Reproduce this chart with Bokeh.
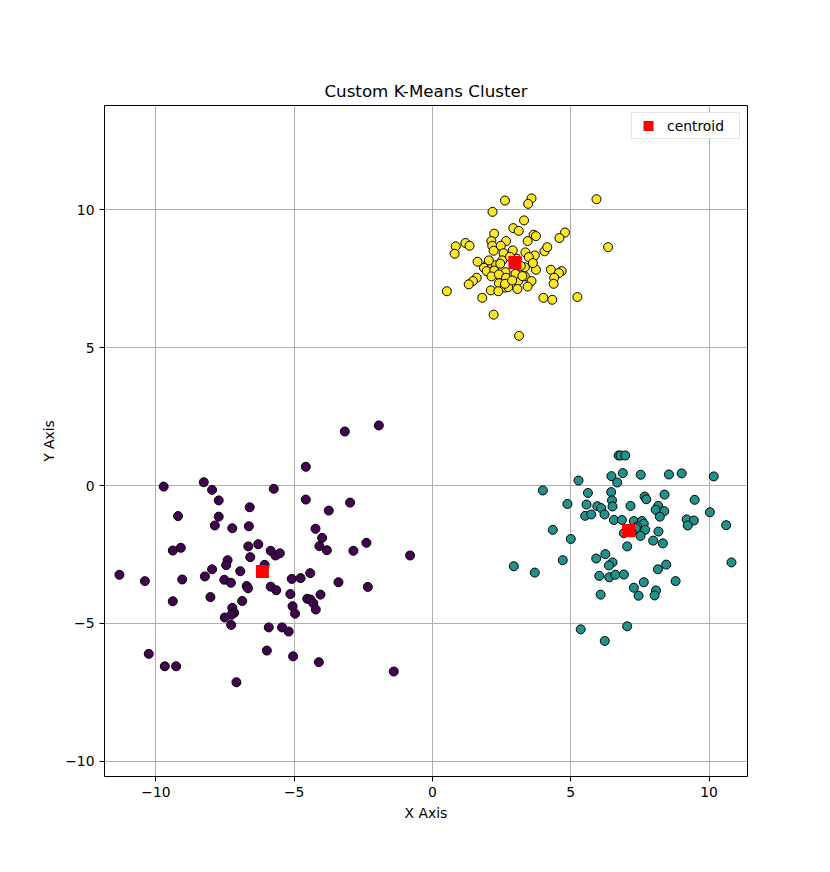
from bokeh.plotting import figure
from bokeh.models import Range1d, FixedTicker
from bokeh.embed import file_html
from bokeh.resources import INLINE

# cluster 0 (purple)
c0_x = [-9.72, -8.27, -7.97, -7.73, -6.61, -9.20, -7.73, -7.87, -7.24, -6.64,
        -9.39, -9.10, -6.66, -6.30, -6.59, -7.41, -7.46, -6.95, -7.97, -8.23,
        -7.53, -7.29, -6.72, -6.67, -11.32, -10.40, -9.05, -9.39, -8.03, -6.88,
        -7.24, -7.17, -7.27, -7.51, -7.28, -10.26, -9.68, -9.27, -7.09, -5.99,
        -6.07, -5.92, -1.94, -3.17, -4.58, -5.74, -4.58, -2.98, -3.75, -4.23,
        -3.99, -4.09, -3.82, -2.39, -2.86, -0.81, -5.85, -5.68, -5.52, -5.09,
        -4.77, -4.42, -5.85, -5.65, -5.14, -3.40, -2.34, -4.05, -4.53, -4.41,
        -4.31, -4.22, -5.06, -4.97, -5.44, -5.20, -5.04, -4.11, -1.40]
c0_y = [-0.04, 0.12, -0.16, -0.54, -0.79, -1.11, -1.13, -1.45, -1.55, -1.48,
        -2.36, -2.26, -2.21, -2.13, -2.60, -2.71, -2.89, -3.11, -3.04, -3.30,
        -3.42, -3.53, -3.65, -3.73, -3.24, -3.47, -3.41, -4.20, -4.05, -4.19,
        -4.44, -4.62, -4.69, -4.79, -5.06, -6.11, -6.56, -6.56, -7.14, -5.99,
        -2.88, -5.15, 2.18, 1.96, 0.68, -0.12, -0.51, -0.62, -0.91, -1.57,
        -1.90, -2.20, -2.35, -2.08, -2.37, -2.54, -2.37, -2.54, -2.46, -3.39,
        -3.36, -3.18, -3.67, -3.80, -3.94, -3.51, -3.68, -3.96, -4.11, -4.14,
        -4.27, -4.50, -4.38, -4.65, -5.15, -5.30, -6.20, -6.41, -6.75]

# cluster 1 (teal)
c1_x = [6.73, 6.47, 5.28, 6.68, 3.99, 5.62, 6.46, 6.49, 4.88, 5.57,
        5.96, 6.10, 6.51, 5.52, 5.74, 6.22, 6.56, 4.35, 5.00, 6.25,
        5.92, 6.51, 4.71, 6.38, 2.94, 3.70, 6.03, 6.39, 6.61, 6.08,
        5.36, 6.23, 6.80, 6.97, 6.88, 7.53, 8.55, 9.01, 10.17, 7.67,
        7.73, 8.39, 9.48, 7.16, 8.16, 8.07, 8.38, 8.22, 10.03, 6.85,
        7.28, 7.57, 7.64, 9.19, 9.45, 9.23, 10.62, 7.40, 7.69, 8.17,
        6.92, 7.52, 7.98, 8.33, 7.04, 8.15, 8.45, 10.81, 6.92, 7.64,
        8.79, 7.28, 7.45, 8.08, 8.03, 7.04, 7.35, 7.20]
c1_y = [1.09, 0.34, 0.18, 0.11, -0.18, -0.27, -0.24, -0.54, -0.67, -0.69,
        -0.75, -0.82, -0.76, -1.10, -1.05, -1.05, -1.25, -1.61, -1.94, -2.49,
        -2.65, -2.79, -2.71, -2.90, -2.93, -3.16, -3.28, -3.33, -3.24, -3.96,
        -5.22, -5.64, 1.09, 1.09, 0.45, 0.39, 0.40, 0.44, 0.33, -0.40,
        -0.50, -0.33, -0.52, -0.74, -0.74, -0.88, -0.93, -1.13, -0.97, -1.25,
        -1.29, -1.29, -1.39, -1.23, -1.27, -1.45, -1.44, -1.49, -1.61, -1.67,
        -1.73, -1.83, -2.00, -2.10, -2.21, -3.04, -2.87, -2.79, -3.23, -3.51,
        -3.47, -3.71, -4.00, -3.81, -3.99, -5.11, -1.55, -1.70]

# cluster 2 (yellow)
c2_x = [2.62, 3.58, 3.46, 5.93, 2.17, 3.31, 2.92, 3.12, 4.79, 4.59,
        2.23, 3.66, 3.74, 6.35, 0.84, 0.80, 1.19, 1.34, 2.13, 2.66,
        2.16, 2.47, 2.21, 3.44, 2.57, 2.90, 3.36, 3.70, 4.05, 4.15,
        1.63, 2.01, 2.30, 2.52, 1.86, 1.96, 2.23, 2.64, 3.12, 3.34,
        3.48, 3.74, 4.28, 4.67, 4.57, 4.40, 4.38, 2.13, 2.40, 2.66,
        3.10, 3.34, 3.58, 1.60, 1.46, 1.31, 2.40, 2.62, 2.74, 3.07,
        3.44, 2.11, 2.38, 0.52, 1.80, 4.01, 4.33, 5.24, 2.21, 3.13,
        3.00, 2.62, 2.04, 3.05, 3.19, 2.88, 3.63, 2.80, 3.25, 2.45]
c2_y = [10.34, 10.42, 10.22, 10.39, 9.93, 9.62, 9.34, 9.24, 9.18, 8.98,
        9.14, 9.10, 9.05, 8.65, 8.68, 8.41, 8.80, 8.70, 8.87, 8.87,
        8.70, 8.70, 8.52, 8.87, 8.43, 8.53, 8.46, 8.35, 8.50, 8.65,
        8.12, 8.05, 8.00, 8.17, 7.90, 7.78, 7.80, 7.74, 7.80, 7.92,
        8.29, 7.83, 7.83, 7.78, 7.71, 7.54, 7.32, 7.59, 7.66, 7.54,
        7.42, 7.59, 7.42, 7.54, 7.42, 7.30, 7.34, 7.18, 7.20, 7.13,
        7.22, 7.08, 7.05, 7.05, 6.81, 6.81, 6.74, 6.84, 6.20, 5.43,
        7.68, 7.32, 8.17, 8.23, 7.97, 7.44, 8.07, 8.30, 7.60, 8.05]

centroid_x = [-6.15, 7.09, 2.98]
centroid_y = [-3.12, -1.63, 8.09]

font = "DejaVu Sans"

p = figure(width=814, height=856, output_backend="svg", toolbar_location=None,
           title="Custom K-Means Cluster",
           x_range=Range1d(-11.86, 11.39), y_range=Range1d(-10.56, 13.79),
           min_border_left=104, min_border_right=67, min_border_top=105, min_border_bottom=80)

p.title.align = "center"
p.title.text_font = font
p.title.text_font_size = "16.7px"
p.title.text_font_style = "normal"
p.title.text_color = "black"

p.outline_line_color = "black"
p.outline_line_width = 1

for ax in (p.xaxis[0], p.yaxis[0]):
    ax.ticker = FixedTicker(ticks=[-10, -5, 0, 5, 10])
    ax.major_label_overrides = {-10: "\u221210", -5: "\u22125", 0: "0", 5: "5", 10: "10"}
    ax.major_label_text_font = font
    ax.major_label_text_font_size = "13.9px"
    ax.major_label_text_color = "black"
    ax.axis_label_text_font = font
    ax.axis_label_text_font_size = "13.9px"
    ax.axis_label_text_font_style = "normal"
    ax.axis_label_text_color = "black"
    ax.minor_tick_line_color = None
    ax.major_tick_out = 5
    ax.major_tick_in = 0
    ax.major_tick_line_color = "black"
    ax.axis_line_color = None

p.xaxis.axis_label = "X Axis"
p.yaxis.axis_label = "Y Axis"

p.grid.grid_line_color = "#b0b0b0"
p.grid.grid_line_width = 1

p.scatter(c0_x, c0_y, size=9, fill_color="#440154", line_color="black", line_width=1)
p.scatter(c1_x, c1_y, size=9, fill_color="#21918c", line_color="black", line_width=1)
p.scatter(c2_x, c2_y, size=9, fill_color="#fde725", line_color="black", line_width=1)

p.scatter(centroid_x, centroid_y, marker="square", size=13, fill_color="red",
          line_color=None, legend_label="centroid")

p.legend.location = "top_right"
p.legend.margin = 7
p.legend.padding = 0
p.legend.spacing = 0
p.legend.border_line_color = "#cccccc"
p.legend.label_text_font = font
p.legend.label_text_font_size = "13.9px"
p.legend.label_text_color = "black"
p.legend.label_standoff = 3
p.legend.label_width = 72
p.legend.glyph_width = 32
p.legend.glyph_height = 25

open("out.html", "w").write(file_html(p, INLINE))
